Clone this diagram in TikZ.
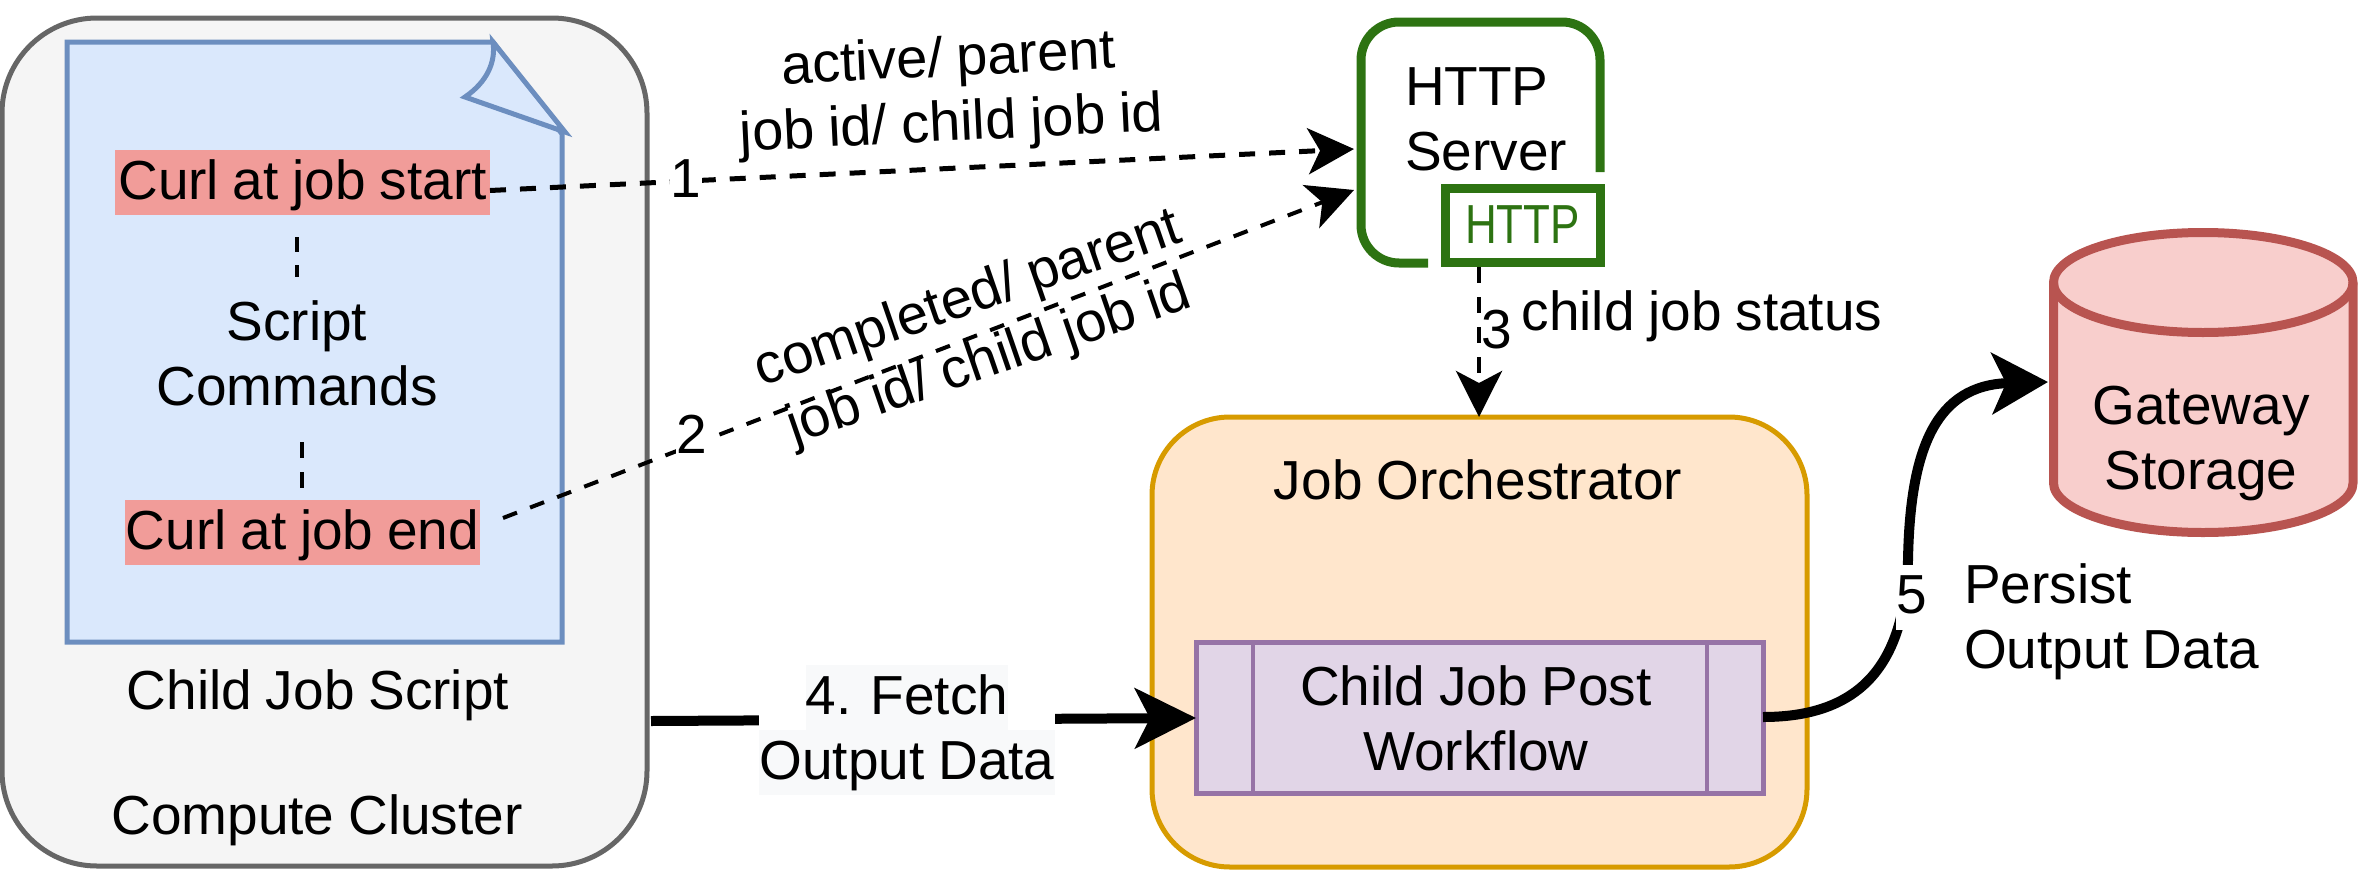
\documentclass[tikz,border=0pt]{standalone}
\usepackage{fontspec}
\setmainfont[WordSpace=0.9]{Liberation Sans}
\usetikzlibrary{arrows.meta,calc}
\definecolor{clFill}{HTML}{F5F5F5}\definecolor{clLine}{HTML}{666666}
\definecolor{docFill}{HTML}{DAE8FC}\definecolor{docLine}{HTML}{6C8EBF}
\definecolor{curlFill}{HTML}{F19C99}
\definecolor{srvLine}{HTML}{2D7312}
\definecolor{orFill}{HTML}{FFE6CC}\definecolor{orLine}{HTML}{D79B00}
\definecolor{prFill}{HTML}{E1D5E7}\definecolor{prLine}{HTML}{9673A6}
\definecolor{dbFill}{HTML}{F8CECC}\definecolor{dbLine}{HTML}{B85450}
\definecolor{lblBg}{HTML}{F8F9FA}
\newcommand{\lblline}[1]{\colorbox{lblBg}{\rule[-16pt]{0pt}{65pt}#1}}
\setlength{\fboxsep}{0pt}
\tikzset{
  txt/.style={inner sep=0pt,outer sep=0pt,font=\fontsize{55}{65}\selectfont},
  one/.style={txt,anchor=base},
  two/.style={txt,align=center},
  curl/.style={txt,fill=curlFill,text height=49pt,text depth=16pt},
  num/.style={txt,fill=white,text height=49pt,text depth=16pt,minimum width=32pt},
  dsh/.style={line width=5pt,dash pattern=on 16pt off 14pt},
  dshthin/.style={line width=4pt,dash pattern=on 15pt off 14pt},
  tipS/.style={-{Stealth[length=46pt,width=46pt,inset=12pt]}},
  panel/.style={inner sep=0pt,outer sep=0pt,line width=5pt},
  slant/.style={two,font=\fontsize{56}{65}\selectfont},
}
\begin{document}
\begin{tikzpicture}[x=1pt,y=-1pt]
\useasboundingbox (0,0) rectangle (2360,870);
% Compute cluster
\node[panel,draw=clLine,fill=clFill,rounded corners=95pt,minimum width=645pt,minimum height=848pt] (cluster) at (324.5,442) {};
% Script page
\draw[line width=5pt,draw=docLine,fill=docFill,miter limit=10]
  (562,134) -- (562,642) -- (67,642) -- (67,42) -- (493,42) -- cycle;
\draw[line width=5pt,draw=docLine,fill=docFill,line join=miter,miter limit=10]
  (493,42) .. controls (496,62) and (487,82) .. (465,97) -- (565,132) -- cycle;
\node[curl,minimum width=375pt] (cstart) at (302.5,182.5) {Curl at job start};
\node[curl,minimum width=355pt] (cend) at (302.5,532.5) {Curl at job end};
\node[two] (script) at (297,353.5) {Script\\Commands};
\draw[line width=4pt,dash pattern=on 15pt off 13pt] (cstart.south -| script.north) ++(0,22) coordinate (d1) -- (script.north |- 0,277) coordinate (d2);
\coordinate (d3) at (302,442);
\draw[line width=4pt,dash pattern=on 16pt off 14pt] (d3) -- (cend.north -| d3) ++(0,-12);
\node[one] (childjob) at (318,709) {Child Job Script};
\node[one] (cclabel) at (317,834) {Compute Cluster};
% HTTP server
\node[panel,line width=9pt,draw=srvLine,fill=white,minimum width=155pt,minimum height=74pt] (httpbox) at (1522.5,225) {};
\node[txt,text=srvLine,xscale=0.8] (httplbl) at (httpbox.center) {HTTP};
\draw[line width=9pt,draw=srvLine,rounded corners=38pt] (1600,172) -- (1600,22) -- (1361,22) -- (1361,263) -- (1428,263);
\node[two,align=left,anchor=west] (server) at (1405,119) {HTTP\\Server};
\coordinate (srvA) at (1354,149);
\coordinate (srvB) at (1354,190);
% Orchestrator
\node[panel,draw=orLine,fill=orFill,rounded corners=78pt,minimum width=655pt,minimum height=450pt] (orch) at (1479.5,642) {};
\node[one] (orchlbl) at (1478,499) {Job Orchestrator};
\node[panel,line width=5pt,draw=prLine,fill=prFill,minimum width=567pt,minimum height=151pt] (post) at (1479.5,717.5) {};
\draw[line width=3.5pt,draw=prLine] (post.north -| 1253,0) -- (post.south -| 1253,0);
\draw[line width=3.5pt,draw=prLine] (post.north -| 1707,0) -- (post.south -| 1707,0);
\node[two] (postlbl) at (1476,718) {Child Job Post\\Workflow};
% Storage
\draw[line width=9pt,draw=dbLine,fill=dbFill]
  (2053.5,282.5) .. controls (2053.5,255) and (2120,232.5) .. (2203,232.5)
  .. controls (2286,232.5) and (2353,255) .. (2353,282.5)
  -- (2353,483) .. controls (2353,510) and (2286,532.5) .. (2203,532.5)
  .. controls (2120,532.5) and (2053.5,510) .. (2053.5,483) -- cycle;
\draw[line width=9pt,draw=dbLine]
  (2053.5,282.5) .. controls (2053.5,310) and (2120,332.5) .. (2203,332.5)
  .. controls (2286,332.5) and (2353,310) .. (2353,282.5);
\node[two] (dblbl) at (2201,443) {Gateway\\Storage};
\coordinate (dbIn) at (2048,382);
% Connectors
\draw[dsh,tipS] (cstart.east) ++(0,8) -- (srvA)
  node[num,pos=0.227] (n1) {1};
\draw[dshthin,tipS] (503,518) -- (srvB);
\node[num] (n2) at (692,437) {2};
\coordinate (h3) at (1479,267);
\draw[dsh,tipS,line width=4.5pt] (h3) -- (orch.north -| h3);
\node[num,minimum width=30pt] (n3) at (1497,332) {3};
\node[one] (status) at (1702,330) {child job status};
\draw[line width=10pt,-{Stealth[length=61pt,width=60pt,inset=15pt]}]
  (cluster.east |- 0,721) ++(4,0) -- (post.west |- 0,718);
\node[txt,fill=white,align=center] (fetch) at (907,730) {\lblline{4. Fetch}\\\lblline{Output Data}};
\draw[line width=10pt,-{Stealth[length=56pt,width=61pt,inset=14pt]}]
  (post.east |- 0,717) .. controls (1860,717) and (1905,665) .. (1908,560)
  .. controls (1910,450) and (1935,385) .. (dbIn);
\node[num,minimum width=32pt] (n5) at (1912,597) {5};
\node[two,align=left,anchor=west] (persist) at (1964,622) {Persist\\Output Data};
% Rotated labels
\node[slant,rotate=2.8] (l1) at (950,94) {active/ parent\\job id/ child job id};
\node[slant,rotate=19] (l2) at (979,331) {completed/ parent\\job id/ child job id};
\end{tikzpicture}
\end{document}
